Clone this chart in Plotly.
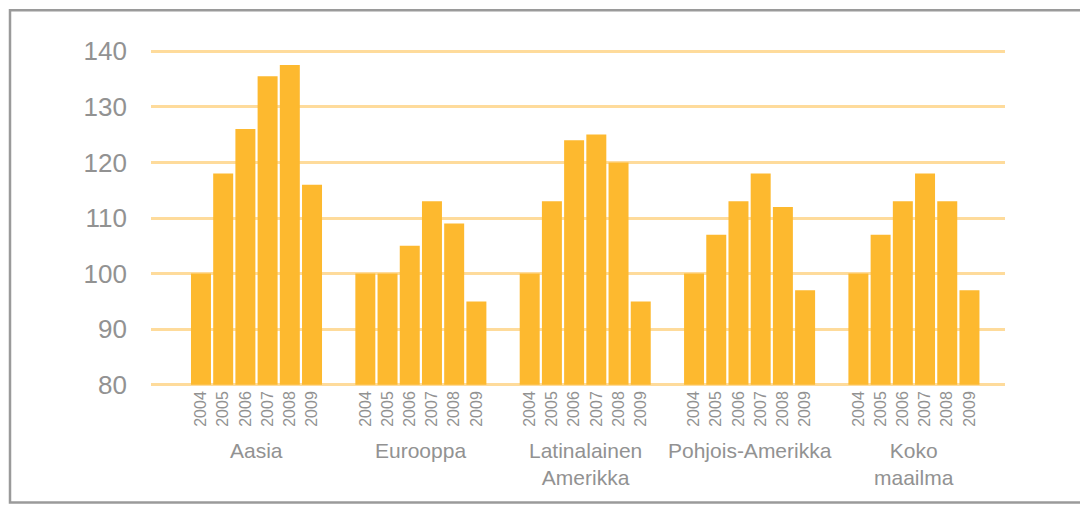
import plotly.graph_objects as go

groups = ["Aasia", "Eurooppa", "Latinalainen<br>Amerikka", "Pohjois-Amerikka", "Koko<br>maailma"]
years = ["2004", "2005", "2006", "2007", "2008", "2009"]
values = {
    "Aasia": [100, 118, 126, 135.5, 137.5, 116],
    "Eurooppa": [100, 100, 105, 113, 109, 95],
    "Latinalainen<br>Amerikka": [100, 113, 124, 125, 120, 95],
    "Pohjois-Amerikka": [100, 107, 113, 118, 112, 97],
    "Koko<br>maailma": [100, 107, 113, 118, 113, 97],
}
BASE = 80

GROUP_PITCH = 7.4
xs, ys, tick_text = [], [], []
for g, name in enumerate(groups):
    for i, yr in enumerate(years):
        xs.append(g * GROUP_PITCH + i)
        ys.append(values[name][i] - BASE)
        tick_text.append(yr)

TEXT = "#929292"
FONT = "Liberation Sans, Arial, Helvetica, sans-serif"

# page offset (browser body margin) compensation
OFF = 8
W, H = 1088, 506
PL, PR, PT, PB = 151 - OFF, 1005 - OFF, 51 - OFF, 385 - OFF  # pixel pos of y=80..140 area
YMIN, YMAX = 79.6, 140.4
unit = (PB - PT) / 60.0
top_px = PT - (YMAX - 140) * unit
bot_px = PB + (BASE - YMIN) * unit

fig = go.Figure()
fig.add_trace(go.Bar(
    x=xs, y=ys, base=BASE, width=0.9,
    marker=dict(color="#FDB92F", line=dict(width=0)),
    customdata=[v + BASE for v in ys],
    hovertemplate="%{customdata}<extra></extra>",
))

annotations = []
for g, name in enumerate(groups):
    annotations.append(dict(
        x=g * GROUP_PITCH + 2.5, xref="x", y=0, yref="paper",
        yanchor="top", yshift=-50, text=name, showarrow=False,
        font=dict(size=21, color=TEXT, family=FONT), align="center",
    ))

ph = bot_px - top_px
fig.update_layout(
    width=W, height=H,
    margin=dict(l=PL, r=W - PR, t=top_px, b=H - bot_px),
    paper_bgcolor="white", plot_bgcolor="white",
    showlegend=False,
    font=dict(family=FONT, color=TEXT),
    xaxis=dict(
        range=[-2.25, 36.2], tickmode="array", tickvals=xs, ticktext=tick_text,
        tickangle=-90, tickfont=dict(size=16, color=TEXT),
        showgrid=False, zeroline=False, showline=False, ticks="",
    ),
    yaxis=dict(
        range=[YMIN, YMAX], tickmode="linear", tick0=80, dtick=10,
        tickfont=dict(size=26, color=TEXT),
        showgrid=True, gridcolor="#FEDB9B", gridwidth=3,
        zeroline=False, showline=False, ticks="", ticklabelstandoff=23,
    ),
    annotations=annotations,
    shapes=[dict(
        type="rect", xref="paper", yref="paper",
        x0=(10 - OFF - PL) / (PR - PL), x1=(1110 - PL) / (PR - PL),
        y0=(bot_px - (503 - OFF)) / ph, y1=(bot_px - (10 - OFF)) / ph,
        line=dict(color="#9a9a9a", width=2.5), fillcolor="rgba(0,0,0,0)",
        layer="below",
    )],
)

fig.write_html("out.html")
